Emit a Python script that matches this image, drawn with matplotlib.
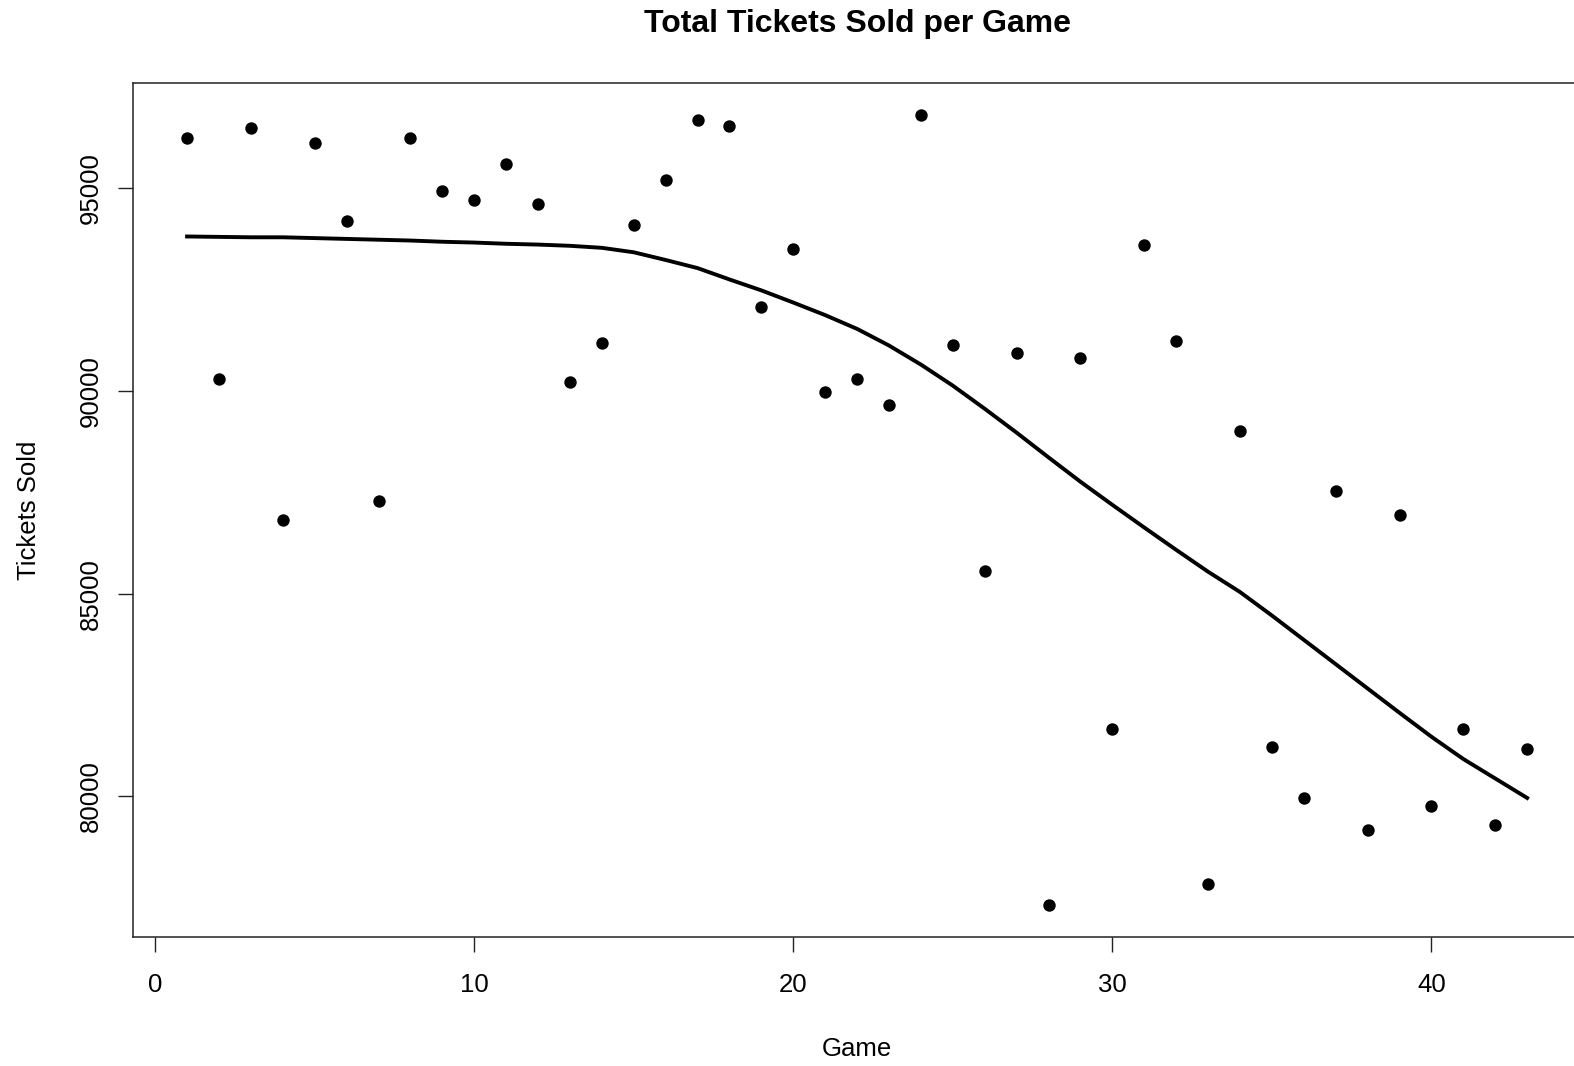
import matplotlib.pyplot as plt
import numpy as np

plt.rcParams['font.family'] = ['Liberation Sans', 'DejaVu Sans']

# tickets sold for each home game of the season
game = np.arange(1, 44)
tickets = [96240, 90300, 96490, 86810, 96120, 94180, 87280, 96240, 94920, 94700,
           95600, 94600, 90220, 91190, 94100, 95200, 96690, 96540, 92070, 93490,
           89970, 90300, 89650, 96810, 91140, 85550, 90940, 77320, 90820, 81660,
           93590, 91240, 77840, 89010, 81220, 79950, 87530, 79180, 86950, 79750,
           81660, 79300, 81170]

# smoothed trend through the games
trend = [93810, 93800, 93790, 93790, 93770, 93750, 93730, 93710, 93680, 93660,
         93630, 93610, 93580, 93530, 93420, 93230, 93030, 92750, 92480, 92180,
         91870, 91530, 91120, 90650, 90130, 89560, 88970, 88360, 87760, 87190,
         86630, 86080, 85540, 85040, 84460, 83860, 83260, 82660, 82060, 81470,
         80920, 80440, 79960]

x_ticks = [0, 10, 20, 30, 40]
y_ticks = [80000, 85000, 90000, 95000]

fig = plt.figure(figsize=(15.74, 10.66), dpi=100)
ax = fig.add_axes([0.0848, 0.1214, 0.9195, 0.8005])

ax.scatter(game, tickets, s=80, color='black', linewidths=0, zorder=3)
ax.plot(game, trend, color='black', lw=2.8, zorder=2)

# R style axis ranges: data range plus 4% on each side
xr = game.max() - game.min()
ax.set_xlim(game.min() - 0.04 * xr, game.max() + 0.04 * xr)
yr = max(tickets) - min(tickets)
ax.set_ylim(min(tickets) - 0.04 * yr, max(tickets) + 0.04 * yr)

ax.set_xticks(x_ticks)
ax.set_yticks(y_ticks)
ax.set_yticklabels([str(v) for v in y_ticks], rotation=90, va='center')
ax.tick_params(direction='out', length=11, width=1.0, color='#222222', labelsize=18.5)
ax.tick_params(axis='x', pad=15)
ax.tick_params(axis='y', pad=11)

for side in ['left', 'bottom', 'top']:
    ax.spines[side].set_linewidth(1.1)
    ax.spines[side].set_color('#222222')
ax.spines['right'].set_visible(False)

ax.set_title('Total Tickets Sold per Game', fontsize=23, fontweight='bold', pad=37)
ax.set_xlabel('Game', fontsize=18.5, labelpad=29)
ax.set_ylabel('Tickets Sold', fontsize=18.5, labelpad=27)

fig.savefig('out.png', dpi=100)
